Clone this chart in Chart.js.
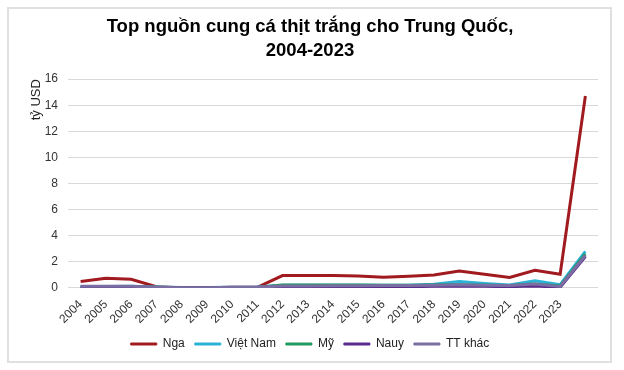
<!DOCTYPE html>
<html>
<head>
<meta charset="utf-8">
<script src="https://cdn.jsdelivr.net/npm/chart.js@4.4.1/dist/chart.umd.min.js"></script>
<style>
  body { margin: 0; background: #fff; }
  #wrap { position: relative; width: 624px; height: 370px; }
  #frame { position: absolute; left: 7px; top: 7px; width: 605px; height: 356px; border: 2px solid #e0e0e0; box-sizing: border-box; }
  #mycanvas { position: absolute; left: 0; top: 0; }
</style>
</head>
<body>
<div id="wrap">
  <div id="frame"></div>
  <canvas id="mycanvas" width="624" height="370"></canvas>
</div>
<script>
// years, last slot has no label
var years = ['2004','2005','2006','2007','2008','2009','2010','2011','2012','2013',
             '2014','2015','2016','2017','2018','2019','2020','2021','2022','2023',''];

var nga     = [0.5, 0.75, 0.67, 0.1, 0.02, 0.02, 0.05, 0.05, 0.95, 0.95, 0.95, 0.92, 0.82, 0.9, 1.0, 1.3, 1.05, 0.8, 1.35, 1.05, 14.7];
var vietNam = [0.1, 0.12, 0.12, 0.08, 0.03, 0.03, 0.05, 0.08, 0.2, 0.2, 0.2, 0.2, 0.2, 0.2, 0.28, 0.5, 0.35, 0.22, 0.55, 0.25, 2.8];
var my      = [0.1, 0.1, 0.1, 0.05, 0.02, 0.02, 0.04, 0.06, 0.22, 0.22, 0.22, 0.22, 0.2, 0.2, 0.22, 0.25, 0.2, 0.18, 0.3, 0.15, 2.6];
var nauy    = [0.05, 0.05, 0.05, 0.03, 0.01, 0.01, 0.02, 0.03, 0.08, 0.08, 0.1, 0.1, 0.1, 0.1, 0.12, 0.15, 0.12, 0.1, 0.15, 0.05, 2.4];
var ttKhac  = [0.12, 0.13, 0.13, 0.06, 0.02, 0.02, 0.05, 0.07, 0.15, 0.15, 0.17, 0.17, 0.18, 0.18, 0.2, 0.25, 0.2, 0.18, 0.3, 0.12, 2.5];

var yTicks = [0, 2, 4, 6, 8, 10, 12, 14, 16];

function series(label, data, color, order) {
  return {
    label: label,
    data: data,
    borderColor: color,
    backgroundColor: color,
    borderWidth: 3,
    pointRadius: 0,
    tension: 0,
    order: order
  };
}

var ctx = document.getElementById('mycanvas').getContext('2d');

var lineChart = new Chart(ctx, {
  type: 'line',
  data: {
    labels: years,
    datasets: [
      series('Nga', nga, '#a11a1f', 4),
      series('Việt Nam', vietNam, '#2bb3d6', 3),
      series('Mỹ', my, '#1f9a5c', 2),
      series('Nauy', nauy, '#5a2d8c', 1),
      series('TT khác', ttKhac, '#7b6ea3', 0)
    ]
  },
  options: {
    responsive: false,
    animation: false,
    layout: { padding: { left: 22, right: 26, top: 8, bottom: 10 } },
    plugins: {
      title: {
        display: true,
        text: ['Top nguồn cung cá thịt trắng cho Trung Quốc,', '2004-2023'],
        color: '#000',
        font: { family: 'Liberation Sans', size: 18.5, weight: 'bold', lineHeight: 1.3 },
        padding: { top: 7, bottom: 16 }
      },
      legend: {
        position: 'bottom',
        labels: {
          boxWidth: 26,
          boxHeight: 2,
          padding: 10,
          color: '#222',
          font: { family: 'Liberation Sans', size: 12 },
          sort: function(a, b) { return a.datasetIndex - b.datasetIndex; },
          generateLabels: function(chart) {
            var items = Chart.defaults.plugins.legend.labels.generateLabels(chart);
            items.forEach(function(it) { it.lineWidth = 1; });
            return items;
          }
        }
      },
      tooltip: { enabled: false }
    },
    scales: {
      x: {
        offset: true,
        grid: { display: false },
        border: { display: false },
        ticks: {
          color: '#333',
          font: { family: 'Liberation Sans', size: 12 },
          minRotation: 45,
          maxRotation: 45,
          autoSkip: false,
          padding: 1.5
        }
      },
      y: {
        min: 0,
        max: 16,
        afterBuildTicks: function(axis) {
          axis.ticks = yTicks.map(function(v) { return { value: v }; });
        },
        afterFit: function(axis) { axis.width = 46; },
        grid: { color: '#d9d9d9', drawTicks: false },
        border: { display: false },
        title: {
          display: true,
          text: 'tỷ USD',
          align: 'end',
          color: '#222',
          font: { family: 'Liberation Sans', size: 13 },
          padding: { top: 7, bottom: 0 }
        },
        ticks: {
          color: '#333',
          font: { family: 'Liberation Sans', size: 12 },
          padding: 10
        }
      }
    }
  }
});
</script>
</body>
</html>
